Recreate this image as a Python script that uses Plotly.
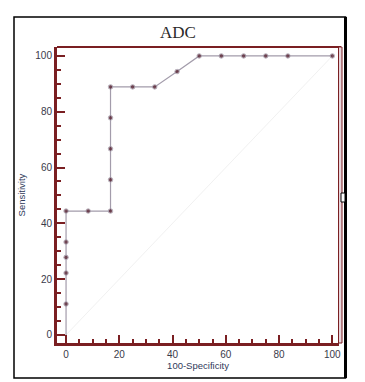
import plotly.graph_objects as go

# ROC data (100-Specificity, Sensitivity)
fpr = [0, 0, 0, 0, 0, 0, 8.3, 16.7, 16.7, 16.7, 16.7, 16.7, 25, 33.3, 41.7, 50, 58.3, 66.7, 75, 83.3, 100]
sens = [0, 11.1, 22.2, 27.8, 33.3, 44.4, 44.4, 44.4, 55.6, 66.7, 77.8, 88.9, 88.9, 88.9, 94.4, 100, 100, 100, 100, 100, 100]
diag = [0, 100]
tick_vals = [0, 20, 40, 60, 80, 100]

W, H = 365, 382
L, R, T, B = 57, 339, 47, 343
maroon = "#7a1f22"

def px(x):
    return (x - L) / (R - L)

def py(y):
    return (B - y) / (B - T)

fig = go.Figure()
fig.add_trace(go.Scatter(x=diag, y=diag, mode="lines",
                         line=dict(color="#f1f1f1", width=1), hoverinfo="skip"))
fig.add_trace(go.Scatter(x=fpr, y=sens, mode="lines+markers",
                         line=dict(color="#a39cab", width=1.2),
                         marker=dict(color="#4a1020", size=[0] + [4.5] * (len(fpr) - 1))))

axis_common = dict(
    showgrid=False, zeroline=False, ticks="inside", ticklen=8, tickwidth=2,
    tickcolor=maroon, showline=True, linecolor=maroon, linewidth=3,
    tickvals=tick_vals, tickfont=dict(family="Liberation Sans, Arial", size=10, color="#3a3a4a"),
    minor=dict(dtick=5, ticks="inside", ticklen=4, tickwidth=1.5, tickcolor=maroon),
)
fig.update_xaxes(range=[-3.4, 102.5], title=dict(text="100-Specificity", standoff=2,
                 font=dict(family="Liberation Sans, Arial", size=9.5, color="#2f3a5a")), **axis_common)
fig.update_yaxes(range=[-2.9, 103.2], title=dict(text="Sensitivity", standoff=8,
                 font=dict(family="Liberation Sans, Arial", size=9.5, color="#2f3a5a")), **axis_common)

shapes = [
    # top border of plot
    dict(type="line", xref="paper", yref="paper", x0=0, x1=px(341), y0=1, y1=1,
         line=dict(color=maroon, width=2)),
    # right double border
    dict(type="rect", xref="paper", yref="paper", x0=px(338.5), x1=px(342), y0=0, y1=1,
         line=dict(color=maroon, width=1), fillcolor="#e8d6dc"),
    # outer black frame
    dict(type="rect", xref="paper", yref="paper", x0=px(14), x1=px(345.5), y0=py(378), y1=py(17),
         line=dict(color="black", width=1.5)),
    dict(type="line", xref="paper", yref="paper", x0=px(345.5), x1=px(345.5), y0=py(378), y1=py(17),
         line=dict(color="black", width=3)),
    dict(type="rect", xref="paper", yref="paper", x0=px(341), x1=px(345), y0=py(202), y1=py(193),
         line=dict(color="black", width=1), fillcolor="white"),
]

fig.update_layout(
    width=W, height=H, margin=dict(l=L, r=W - R, t=T, b=H - B),
    paper_bgcolor="white", plot_bgcolor="white", showlegend=False,
    title=dict(text="ADC", xref="container", x=178 / W, xanchor="center",
               yref="container", y=1 - 32 / H, yanchor="middle",
               font=dict(family="Liberation Serif, serif", size=17, color="#2a2a2a")),
    shapes=shapes,
)

fig.write_html("out.html")
